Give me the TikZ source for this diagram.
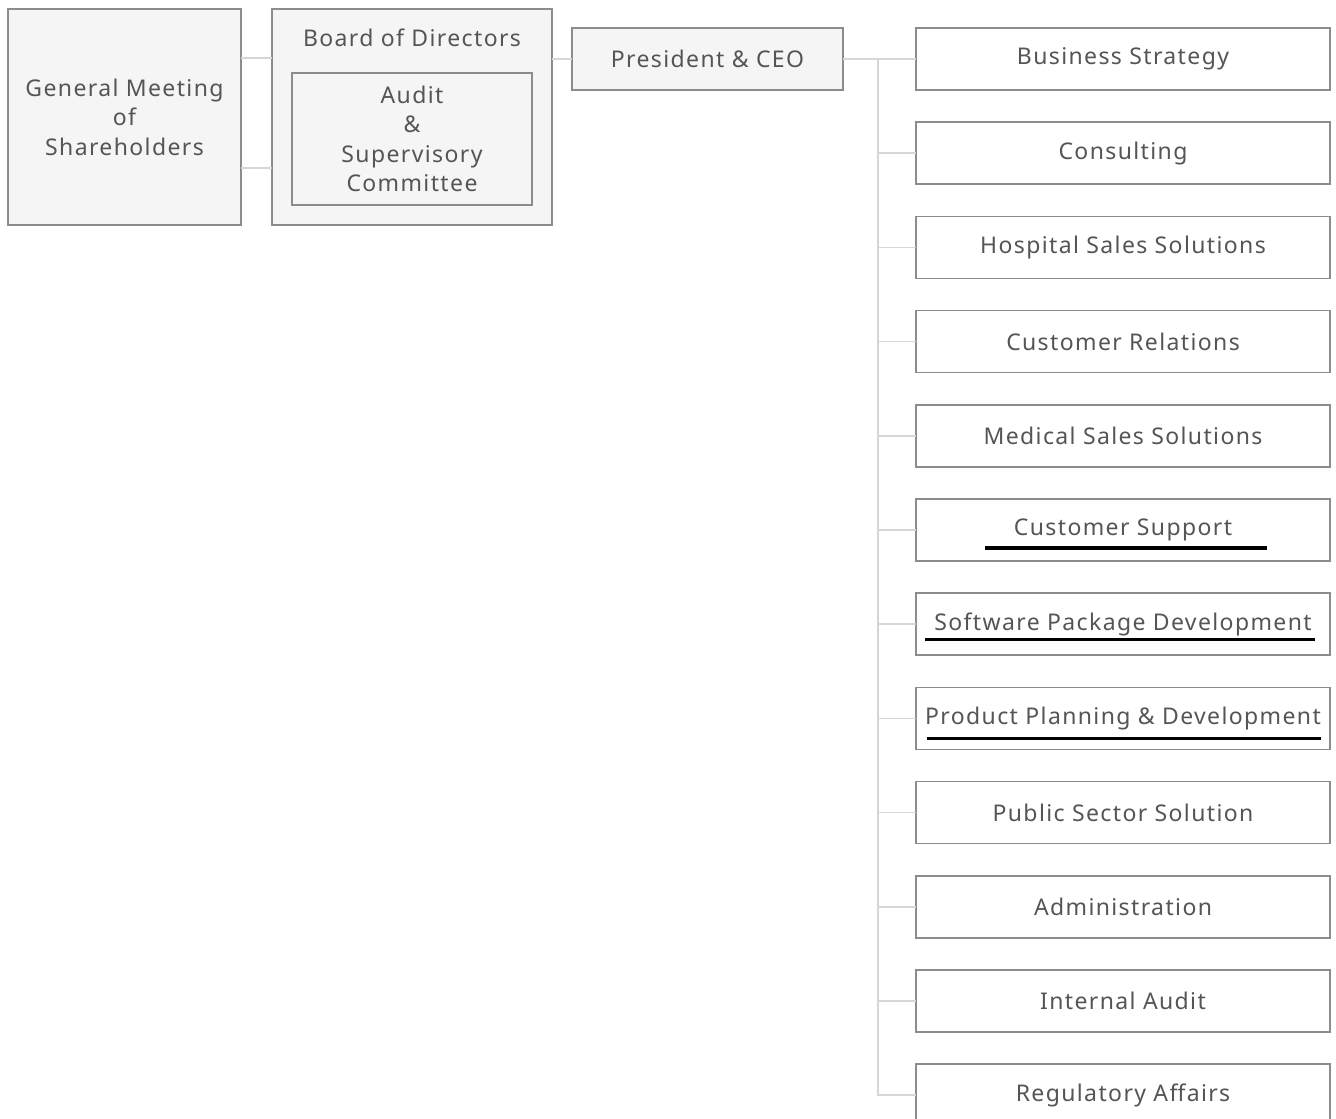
\documentclass[tikz,border=0pt]{standalone}
\usepackage{fontspec}
\setmainfont[LetterSpace=6]{Noto Sans}
\usepackage{tikz}
\usetikzlibrary{positioning}
\definecolor{boxline}{RGB}{140, 140, 140}
\definecolor{boxfill}{RGB}{245, 245, 245}
\definecolor{linkline}{RGB}{214, 214, 214}
\definecolor{labeltext}{RGB}{85, 85, 85}
\tikzstyle{txt} = [text=labeltext, font=\fontsize{23}{29.5}\selectfont, align=center, inner sep=0pt, outer sep=0pt]
\tikzstyle{graybox} = [txt, rectangle, draw=boxline, line width=1.5pt, fill=boxfill]
\tikzstyle{dept} = [txt, rectangle, draw=boxline, line width=1.5pt, fill=white, minimum width=414pt, minimum height=62pt]
\tikzstyle{link} = [draw=linkline, line width=1.5pt]
\tikzstyle{uline} = [draw=black, line width=3.2pt]

\begin{document}
\begin{tikzpicture}[x=1pt, y=1pt]
\useasboundingbox (0,0) rectangle (1336,-1119);

% governance =============================

\node[graybox, minimum width=233pt, minimum height=216pt] (gm) at (124.5,-117) {General Meeting\\of\\Shareholders};
\node[graybox, minimum width=280pt, minimum height=216pt, right=31pt of gm] (bod) {};
\node[txt] (bodlbl) at ([yshift=-29pt]bod.north) {Board of Directors};
\node[graybox, minimum width=240pt, minimum height=132pt] (asc) at ([yshift=-22pt]bod.center) {Audit\\\&\\Supervisory\\Committee};
\node[graybox, minimum width=271pt, minimum height=62pt, below right=19pt and 20pt of bod.north east] (pres) {President \& CEO};

% departments
\node[dept, right=73pt of pres] (strat) {Business Strategy};
\node[dept, below=32.2pt of strat] (consult) {Consulting};
\node[dept, below=32.2pt of consult] (hosp) {Hospital Sales Solutions};
\node[dept, below=32.2pt of hosp] (custrel) {Customer Relations};
\node[dept, below=32.2pt of custrel] (medsales) {Medical Sales Solutions};
\node[dept, below=32.2pt of medsales] (custsup) {Customer Support};
\node[dept, below=32.2pt of custsup] (swdev) {Software Package Development};
\node[dept, below=32.2pt of swdev] (prodplan) {Product Planning \& Development};
\node[dept, below=32.2pt of prodplan] (public) {Public Sector Solution};
\node[dept, below=32.2pt of public] (admin) {Administration};
\node[dept, below=32.2pt of admin] (intaudit) {Internal Audit};
\node[dept, below=32.2pt of intaudit] (regaff) {Regulatory Affairs};

\coordinate (trunk) at ([xshift=35pt]pres.east);

% edges
\path[link] ([yshift=59pt]gm.east) -- ([yshift=59pt]bod.west);
\path[link] ([yshift=-51pt]gm.east) -- ([yshift=-51pt]bod.west);
\path[link] (pres.west -| bod.east) -- (pres.west);
\path[link] (pres.east) -- (strat.west);
\foreach \d in {consult,hosp,custrel,medsales,custsup,swdev,prodplan,public,admin,intaudit,regaff}
  \path[link] (trunk |- pres.east) |- (\d.west);

% underlines
\path[uline] ([xshift=-138pt,yshift=-18pt]custsup.center) -- ([xshift=144pt,yshift=-18pt]custsup.center);
\path[uline] ([xshift=-198pt,yshift=-15pt]swdev.center) -- ([xshift=192pt,yshift=-15pt]swdev.center);
\path[uline] ([xshift=-196pt,yshift=-20pt]prodplan.center) -- ([xshift=198pt,yshift=-20pt]prodplan.center);

\end{tikzpicture}
\end{document}
